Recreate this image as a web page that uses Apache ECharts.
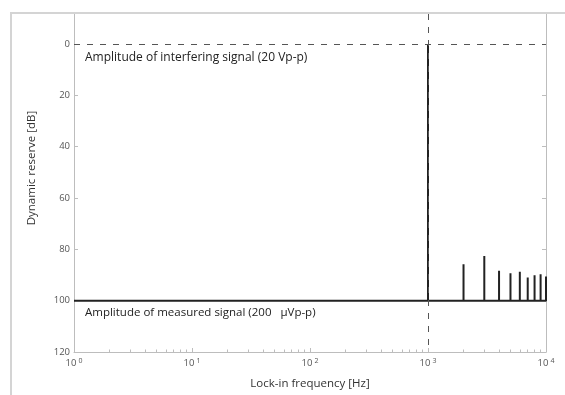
<!DOCTYPE html>
<html>
<head>
<meta charset="utf-8">
<script src="https://cdn.jsdelivr.net/npm/echarts@6/dist/echarts.min.js"></script>
<style>html,body{margin:0;padding:0;background:#fff;}#c{width:565px;height:395px;}</style>
</head>
<body>
<div id="c"></div>
<script>
// ---- data ----
const decadeTicks = [1, 10, 100, 1000, 10000];
const minorTicks = [2,3,4,5,6,7,8,9,20,30,40,50,60,70,80,90,200,300,400,500,600,700,800,900,2000,3000,4000,5000,6000,7000,8000,9000];
const yTicks = [0, 20, 40, 60, 80, 100, 120];
const noiseFloor = 100;
const fundamentalFreq = 1000;
const fundamentalLevel = 0;
const harmonicFreqs = [2000, 3000, 4000, 5000, 6000, 7000, 8000, 9000, 10000];
const harmonicLevels = [85.8, 82.6, 88.4, 89.3, 88.7, 91.0, 90.1, 89.7, 90.6];
const labelInterfering = 'Amplitude of interfering signal (20 Vp-p)';
const labelMeasured = 'Amplitude of measured signal (200   \u00B5Vp-p)';

// build spectrum polyline
const spectrum = [[1, noiseFloor], [fundamentalFreq, noiseFloor], [fundamentalFreq, fundamentalLevel], [fundamentalFreq, noiseFloor]];
harmonicFreqs.forEach((f, i) => {
  spectrum.push([f, noiseFloor], [f, harmonicLevels[i]], [f, noiseFloor]);
});

const font = 'Open Sans, Noto Sans, sans-serif';
const chart = echarts.init(document.getElementById('c'), null, {renderer: 'canvas'});
const axisGray = '#bdbdbd';
const yCommon = {
  type: 'value', inverse: true, min: -11.65, max: 120,
  splitLine: {show: false},
  axisLine: {show: true, onZero: false, lineStyle: {color: axisGray, width: 1}}
};
chart.setOption({
  animation: false,
  grid: {left: 74, right: 19, top: 14, bottom: 43},
  xAxis: [{
    type: 'log', logBase: 10, min: 1, max: 10000, position: 'bottom',
    splitLine: {show: false},
    axisLine: {show: true, onZero: false, lineStyle: {color: axisGray, width: 1}},
    axisTick: {show: true, inside: true, length: 4, lineStyle: {color: axisGray}, customValues: decadeTicks},
    axisLabel: {
      customValues: decadeTicks, margin: 5,
      formatter: v => '{a|10}{b|' + Math.round(Math.log10(v)) + '}',
      rich: {
        a: {fontSize: 9.5, fontFamily: font, color: '#555'},
        b: {fontSize: 7, fontFamily: font, color: '#555', padding: [0, 0, 6, 2]}
      }
    },
    name: 'Lock-in frequency [Hz]', nameLocation: 'middle', nameGap: 26,
    nameTextStyle: {fontSize: 11.5, fontFamily: font, color: '#333'}
  }, {
    type: 'log', logBase: 10, min: 1, max: 10000, position: 'bottom',
    splitLine: {show: false},
    axisLine: {show: false, onZero: false},
    axisTick: {show: true, inside: true, length: 2.5, lineStyle: {color: axisGray}, customValues: minorTicks},
    axisLabel: {show: false}
  }],
  yAxis: [Object.assign({}, yCommon, {
    position: 'left',
    axisTick: {show: true, inside: true, length: 4, lineStyle: {color: axisGray}, customValues: yTicks},
    axisLabel: {customValues: yTicks, margin: 4, fontSize: 9.5, fontFamily: font, color: '#555'}
  }), Object.assign({}, yCommon, {
    position: 'right',
    axisTick: {show: true, inside: true, length: 4, lineStyle: {color: axisGray}, customValues: yTicks},
    axisLabel: {show: false}
  })],
  series: [{
    type: 'line', xAxisIndex: 0, yAxisIndex: 0,
    data: spectrum, showSymbol: false, symbol: 'none',
    lineStyle: {color: '#222', width: 2},
    clip: true,
    markLine: {
      silent: true, symbol: 'none', label: {show: false},
      lineStyle: {color: '#555', width: 1, type: [6, 7]},
      data: [{yAxis: fundamentalLevel}, {xAxis: fundamentalFreq}]
    }
  }],
  graphic: [
    {type: 'line', shape: {x1: 10, y1: 13, x2: 565, y2: 13}, style: {stroke: '#d4d4d4', lineWidth: 2}, z: 100},
    {type: 'line', shape: {x1: 11, y1: 13, x2: 11, y2: 395}, style: {stroke: '#d4d4d4', lineWidth: 2}, z: 100},
    {type: 'text', x: 85, y: 58, style: {text: labelInterfering, fontSize: 12, fontFamily: font, fill: '#222', verticalAlign: 'middle'}},
    {type: 'text', x: 85, y: 313, style: {text: labelMeasured, fontSize: 11.5, fontFamily: font, fill: '#222', verticalAlign: 'middle'}},
    {type: 'text', x: 32, y: 168, rotation: Math.PI / 2, style: {text: 'Dynamic reserve [dB]', fontSize: 11.5, fontFamily: font, fill: '#333', align: 'center', verticalAlign: 'middle'}}
  ]
});
</script>
</body>
</html>
